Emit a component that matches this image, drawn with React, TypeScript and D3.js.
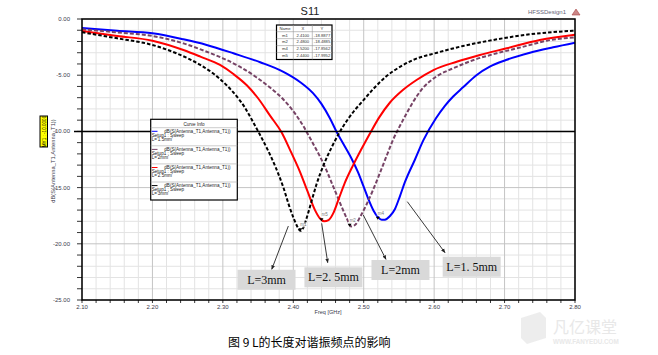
import React from 'react';
import * as d3 from 'd3';

const W = 658;
const H = 355;

const xTickLabels = ['2.10', '2.20', '2.30', '2.40', '2.50', '2.60', '2.70', '2.80'];
const yTickLabels = ['0.00', '-5.00', '-10.00', '-15.00', '-20.00', '-25.00'];

// [freq GHz, dB]
const l15: [number, number][] = [
  [2.10, -0.80], [2.15, -1.04], [2.20, -1.27], [2.244, -1.81], [2.277, -2.31], [2.315, -3.05],
  [2.353, -3.85], [2.386, -4.7], [2.4095, -5.6], [2.428, -6.6], [2.440, -7.55], [2.452, -8.83],
  [2.4616, -10.05], [2.471, -11.1], [2.483, -12.45], [2.492, -13.65], [2.4995, -14.85], [2.5065, -16.0],
  [2.514, -17.05], [2.52, -17.6], [2.5255, -17.86], [2.530, -17.85], [2.537, -17.55], [2.5444, -16.9],
  [2.5515, -15.75], [2.5586, -14.5], [2.5728, -12.5], [2.5846, -10.8], [2.6026, -8.83], [2.615, -7.75],
  [2.627, -6.9], [2.641, -6.08], [2.66, -5.0], [2.679, -4.24], [2.702, -3.65], [2.736, -3.0], [2.769, -2.52],
  [2.80, -2.11],
];
const l2: [number, number][] = [
  [2.10, -0.92], [2.15, -1.19], [2.20, -1.51], [2.244, -2.17], [2.277, -2.91], [2.30, -3.5],
  [2.324, -4.24], [2.348, -5.2], [2.367, -6.1], [2.385, -7.1], [2.40, -8.2], [2.414, -9.5],
  [2.426, -10.85], [2.438, -12.25], [2.447, -13.45], [2.455, -14.65], [2.463, -15.85], [2.47, -16.9],
  [2.476, -17.75], [2.482, -18.45], [2.488, -18.3], [2.495, -17.6], [2.504, -16.5], [2.514, -15.1],
  [2.523, -13.7], [2.533, -12.1], [2.541, -10.85], [2.557, -8.85], [2.5704, -7.35], [2.5846, -6.1],
  [2.6036, -5.1], [2.627, -4.39], [2.656, -3.65], [2.689, -3.05], [2.727, -2.46], [2.76, -1.93], [2.80, -1.63],
];
const l25: [number, number][] = [
  [2.10, -1.07], [2.15, -1.51], [2.20, -1.93], [2.244, -2.76], [2.268, -3.35], [2.296, -4.09],
  [2.315, -4.9], [2.334, -5.9], [2.35, -7.05], [2.367, -8.6], [2.3835, -10.1], [2.3965, -11.8],
  [2.4095, -13.6], [2.42, -15.3], [2.4308, -17.0], [2.438, -17.75], [2.444, -18.0], [2.45, -17.9],
  [2.457, -17.25], [2.464, -16.1], [2.473, -14.6], [2.485, -13.0], [2.497, -11.55], [2.51, -10.05],
  [2.522, -8.75], [2.537, -7.45], [2.556, -6.3], [2.575, -5.43], [2.599, -4.54], [2.632, -3.8],
  [2.665, -3.2], [2.703, -2.61], [2.75, -1.87], [2.80, -1.40],
];
const l3: [number, number][] = [
  [2.10, -1.18], [2.15, -1.72], [2.20, -2.31], [2.234, -3.05], [2.268, -4.09], [2.286, -4.83],
  [2.305, -5.87], [2.32, -6.91], [2.331, -7.85], [2.341, -8.95], [2.351, -10.1], [2.363, -11.55],
  [2.375, -13.2], [2.386, -15.0], [2.394, -16.6], [2.401, -17.8], [2.406, -18.5], [2.41, -18.85],
  [2.414, -18.6], [2.419, -17.7], [2.426, -16.2], [2.433, -14.7], [2.443, -13.0], [2.455, -11.35],
  [2.466, -10.05], [2.48, -8.7], [2.50, -7.2], [2.514, -6.2], [2.533, -5.05], [2.552, -4.24],
  [2.57, -3.65], [2.604, -3.0], [2.641, -2.4], [2.689, -1.81], [2.736, -1.36], [2.80, -1.04],
];

const legendLabels = ["L='1.5mm'", "L='2mm'", "L='2.5mm'", "L='3mm'"];
const traceName = 'dB(S(Antenna_T1,Antenna_T1))';

const markerNames = ['m1', 'm2', 'm4', 'm5'];
const markerXs = [2.41, 2.48, 2.52, 2.44];
const markerYs = [-18.8877, -18.4885, -17.8562, -17.9952];
const markerXText = ['2.4100', '2.4800', '2.5200', '2.4400'];
const markerYText = ['-18.8877', '-18.4885', '-17.8562', '-17.9952'];

const calloutLabels = ['L=3mm', 'L=2. 5mm', 'L=2mm', 'L=1. 5mm'];
const calloutFrom: [number, number][] = [[2.393, -18.42], [2.4403, -18.18], [2.4994, -17.44], [2.5619, -16.25]];
const calloutTo: [number, number][] = [[2.3694, -22.27], [2.4489, -21.68], [2.5316, -21.38], [2.6154, -20.79]];
const calloutBox: [number, number][] = [[2.362, -23.2], [2.457, -22.98], [2.5522, -22.33], [2.6533, -22.04]];

const styles = [
  { color: '#0000ff', dash: undefined as string | undefined },
  { color: '#774466', dash: '4,2' },
  { color: '#ff0000', dash: undefined },
  { color: '#000000', dash: '3.5,2' },
];

export default function App() {
  const L = 82, R = 575, T = 19, B = 300;
  const x = d3.scaleLinear().domain([2.1, 2.8]).range([L, R]);
  const y = d3.scaleLinear().domain([0, -25]).range([T, B]);
  const line = d3.line<[number, number]>().x(d => x(d[0])).y(d => y(d[1])).curve(d3.curveMonotoneX);
  const series = [l15, l2, l25, l3];

  const xMinor = d3.range(0, 36).map(i => 2.1 + i * 0.02);
  const yMinor = d3.range(0, 26).map(i => -i);
  const sans = 'Liberation Sans, Arial, sans-serif';

  return (
    <svg width={W} height={H} style={{ position: 'absolute', left: 0, top: 0, background: '#fff' }}>
      <defs>
        <clipPath id="plot"><rect x={L} y={T} width={R - L} height={B - T} /></clipPath>
        <marker id="arr" viewBox="0 0 10 10" refX="9" refY="5" markerWidth="5" markerHeight="5" orient="auto">
          <path d="M0,1 L10,5 L0,9 z" fill="#222" />
        </marker>
      </defs>
      <rect x={0} y={0} width={W} height={H} fill="#fff" />
      {/* grid */}
      {xMinor.map((v, i) => i % 5 !== 0 && (
        <line key={'xm' + i} x1={x(v)} x2={x(v)} y1={T} y2={B} stroke="#e3e3e3" strokeWidth={1} />
      ))}
      {yMinor.map((v, i) => i % 5 !== 0 && (
        <line key={'ym' + i} x1={L} x2={R} y1={y(v)} y2={y(v)} stroke="#e3e3e3" strokeWidth={1} />
      ))}
      {xMinor.map((v, i) => i % 5 === 0 && (
        <line key={'xM' + i} x1={x(v)} x2={x(v)} y1={T} y2={B} stroke="#c4c4c4" strokeWidth={1} />
      ))}
      {yMinor.map((v, i) => i % 5 === 0 && (
        <line key={'yM' + i} x1={L} x2={R} y1={y(v)} y2={y(v)} stroke="#c4c4c4" strokeWidth={1} />
      ))}
      {/* ticks */}
      {yMinor.map((v, i) => (
        <line key={'yt' + i} x1={L - 5} x2={L} y1={y(v)} y2={y(v)} stroke="#000" strokeWidth={0.8} />
      ))}
      {xMinor.map((v, i) => (
        <line key={'xt' + i} x1={x(v)} x2={x(v)} y1={B} y2={B + 3} stroke="#000" strokeWidth={0.8} />
      ))}
      {/* tick labels */}
      {yTickLabels.map((t, i) => (
        <text key={'yl' + i} x={70} y={y(-5 * i) + 2} fontSize={6} fontFamily={sans} textAnchor="end" fill="#3a3a4a">{t}</text>
      ))}
      {xTickLabels.map((t, i) => (
        <text key={'xl' + i} x={x(2.1 + i * 0.1)} y={309} fontSize={6} fontFamily={sans} textAnchor="middle" fill="#3a3a4a">{t}</text>
      ))}
      <text x={328} y={314} fontSize={5.5} fontFamily={sans} textAnchor="middle" fill="#3a3a4a">Freq [GHz]</text>
      <text transform={`translate(55,161) rotate(-90)`} fontSize={5.8} fontFamily={sans} textAnchor="middle" fill="#3a3a4a">{traceName}</text>
      {/* curves */}
      <g clipPath="url(#plot)">
        {series.map((s, i) => (
          <path key={'s' + i} d={line(s) || ''} fill="none" stroke={styles[i].color} strokeWidth={2}
            strokeDasharray={styles[i].dash} />
        ))}
      </g>
      {/* markers */}
      {markerNames.map((m, i) => {
        const cx = x(markerXs[i]);
        const cy = y(markerYs[i]);
        return (
          <g key={'mk' + i}>
            <path d={`M${cx - 2},${cy - 3} L${cx + 2},${cy - 3} L${cx},${cy} z`} fill="#000" />
            <rect x={cx - 1} y={cy - 9} width={8} height={5} fill="#fff" opacity={0.7} />
            <text x={cx} y={cy - 5} fontSize={4.5} fontFamily={sans} fill="#777">{m}</text>
          </g>
        );
      })}
      {/* frame */}
      <rect x={L} y={T} width={R - L} height={B - T} fill="none" stroke="#000" strokeWidth={1.5} />
      {/* Y marker line at -10 */}
      <line x1={74} x2={R} y1={y(-10)} y2={y(-10)} stroke="#000" strokeWidth={1.5} />
      <rect x={40} y={116} width={7.5} height={31} fill="#ffff00" stroke="#000" strokeWidth={1} />
      <text transform={`translate(45.8,131.5) rotate(-90)`} fontSize={4.6} fontFamily={sans} textAnchor="middle" fill="#000">MY1 : -10.0000</text>

      {/* title */}
      <text x={310} y={15} fontSize={11} fontFamily={sans} textAnchor="middle" fill="#222">S11</text>
      <text x={566} y={14} fontSize={6} fontFamily={sans} textAnchor="end" fill="#667">HFSSDesign1</text>
      <path d="M572,15 L576,9 L580,15 z" fill="#c88" stroke="#a44" strokeWidth={0.6} />

      {/* marker table */}
      <g fontFamily={sans} fontSize={4.2} fill="#333">
        <rect x={276.5} y={25} width={55.5} height={34.5} fill="#fff" stroke="#000" strokeWidth={1.2} />
        {[0, 1, 2, 3].map(i => (
          <line key={'tr' + i} x1={276.5} x2={332} y1={31.7 + i * 6.95} y2={31.7 + i * 6.95} stroke="#999" strokeWidth={0.6} />
        ))}
        <line x1={293.3} x2={293.3} y1={25} y2={59.5} stroke="#999" strokeWidth={0.6} />
        <line x1={312.3} x2={312.3} y1={25} y2={59.5} stroke="#999" strokeWidth={0.6} />
        <text x={285} y={30} textAnchor="middle">Name</text>
        <text x={302.8} y={30} textAnchor="middle">X</text>
        <text x={322} y={30} textAnchor="middle">Y</text>
        {markerNames.map((m, i) => (
          <g key={'row' + i}>
            <text x={285} y={36.5 + i * 6.95} textAnchor="middle">{m}</text>
            <text x={302.8} y={36.5 + i * 6.95} textAnchor="middle">{markerXText[i]}</text>
            <text x={322} y={36.5 + i * 6.95} textAnchor="middle">{markerYText[i]}</text>
          </g>
        ))}
      </g>

      {/* legend */}
      <g fontFamily={sans} fontSize={4.6} fill="#222">
        <rect x={150.7} y={119.3} width={86.6} height={80.7} fill="#fff" stroke="#000" strokeWidth={1.2} />
        <text x={194} y={125.5} textAnchor="middle">Curve Info</text>
        {legendLabels.map((lab, i) => {
          const top = 127.7 + i * 18.1;
          return (
            <g key={'lg' + i}>
              <line x1={150.7} x2={237.3} y1={top} y2={top} stroke="#aaa" strokeWidth={0.6} />
              <line x1={151.7} x2={157.5} y1={top + 3.6} y2={top + 3.6} stroke={styles[i].color} strokeWidth={1} />
              <text x={164.3} y={top + 5}>{traceName}</text>
              <text x={151.7} y={top + 9.2}>Setup1 : Sweep</text>
              <text x={151.7} y={top + 13.4}>{lab}</text>
            </g>
          );
        })}
      </g>

      {/* callouts */}
      {calloutLabels.map((lab, i) => {
        const bx = x(calloutBox[i][0]);
        const by = y(calloutBox[i][1]);
        return (
          <g key={'co' + i}>
            <line x1={x(calloutFrom[i][0])} y1={y(calloutFrom[i][1])} x2={x(calloutTo[i][0])} y2={y(calloutTo[i][1])}
              stroke="#222" strokeWidth={0.9} markerEnd="url(#arr)" />
            <rect x={bx - 29} y={by - 10} width={58} height={20} fill="#d9d9d9" />
            <text x={bx} y={by + 4.2} fontSize={12} fontFamily="Liberation Serif, DejaVu Serif, serif" textAnchor="middle" fill="#111">{lab}</text>
          </g>
        );
      })}

      {/* caption */}
      <text x={228} y={347} fontSize={12} fontFamily="Noto Sans CJK SC, sans-serif" fill="#000">图 9 L的长度对谐振频点的影响</text>

      {/* watermark */}
      <g opacity={0.9}>
        <path d="M521,318 L540,312 L546,318 L546,338 L527,344 L521,338 z" fill="#ececec" />
        <text x={553} y={333} fontSize={16} fontFamily="Noto Sans CJK SC, sans-serif" fill="#e6e6e6">凡亿课堂</text>
        <text x={553} y={344} fontSize={6.3} fontWeight="bold" fontFamily={sans} fill="#e6e6e6">WWW.FANYEDU.COM</text>
      </g>
    </svg>
  );
}
